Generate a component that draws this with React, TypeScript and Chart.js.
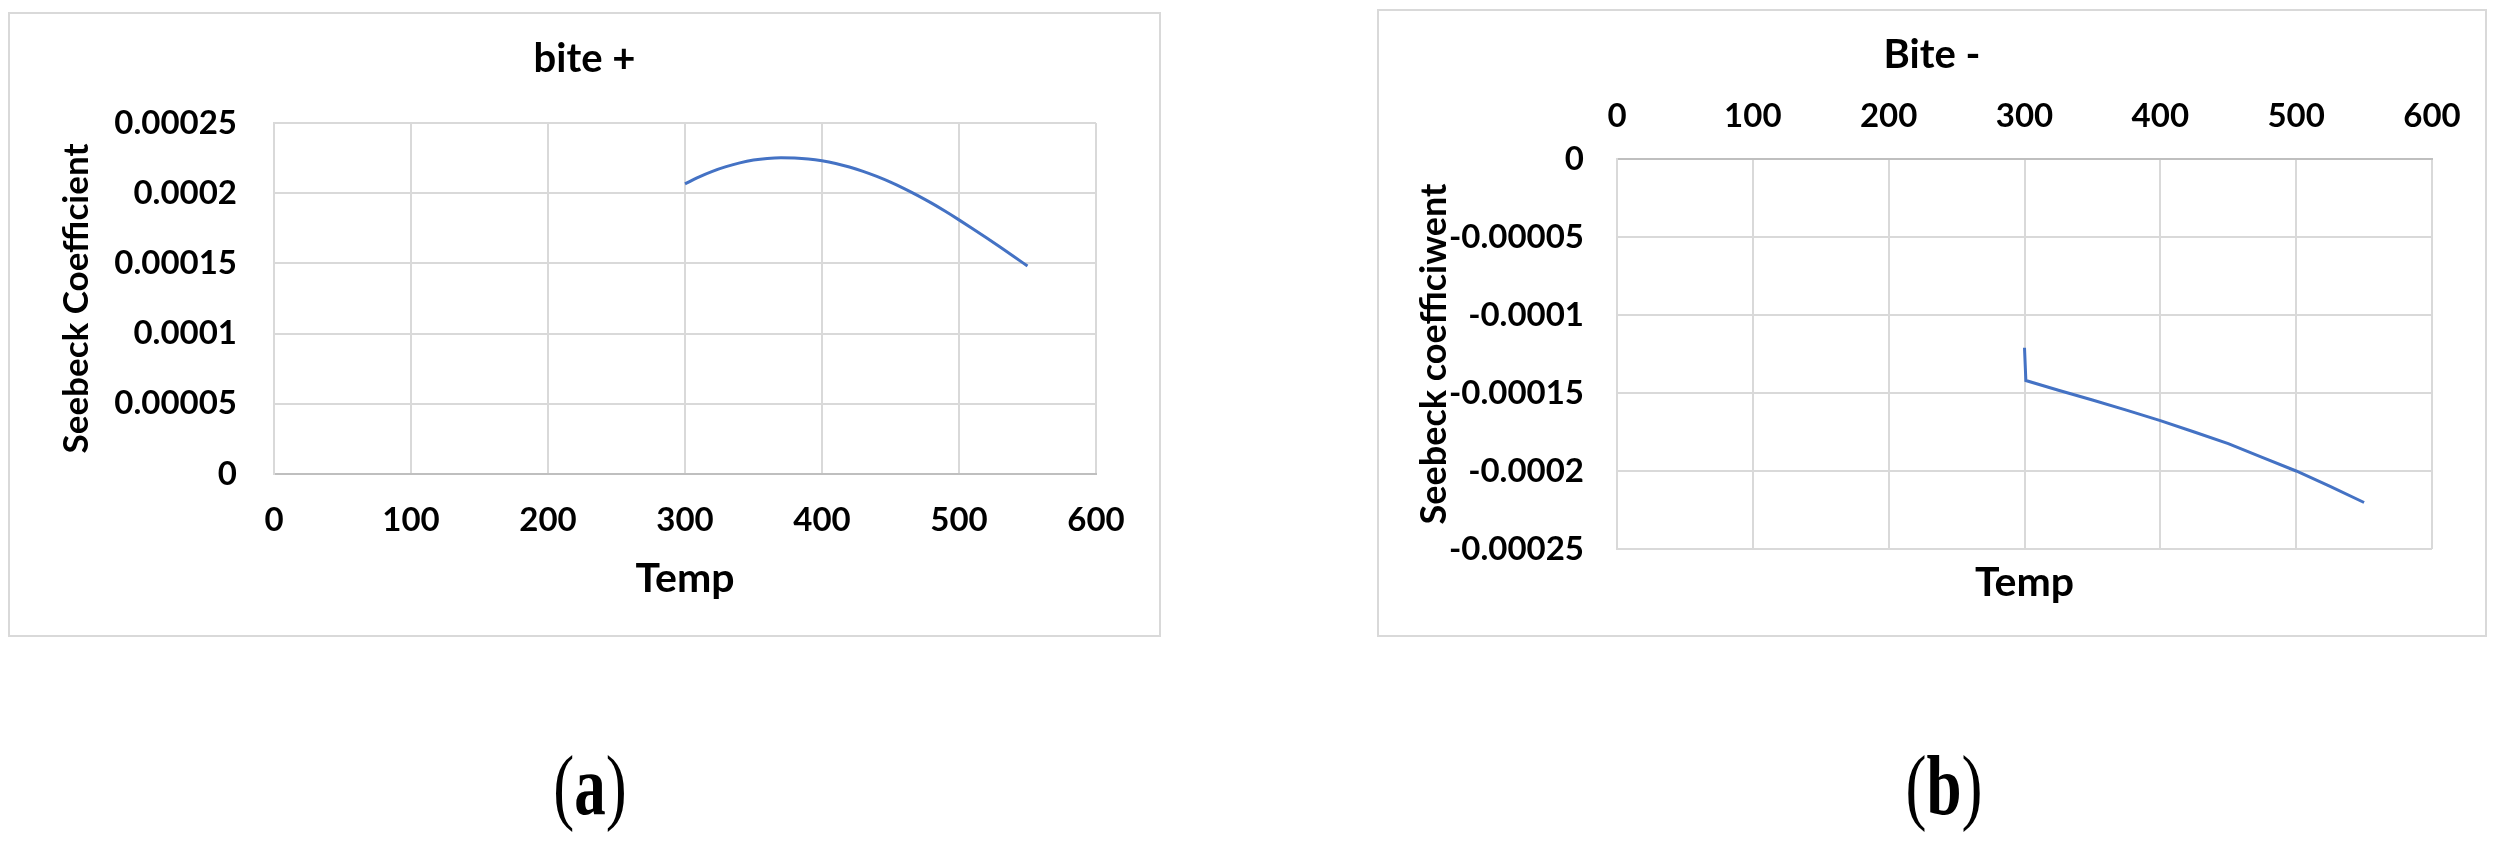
import React, { useEffect, useRef } from 'react';
import { Chart, registerables } from 'chart.js';

Chart.register(...registerables);

// ---------- data ----------
const tempA = [300, 310, 320, 330, 340, 350, 360, 370, 380, 390, 400, 410, 420, 430, 440, 450, 460, 470, 480, 490, 500, 510, 520, 530, 540, 550];
const seebeckA = [
  0.0002066, 0.0002115, 0.0002156, 0.0002189, 0.0002216, 0.0002236, 0.0002248, 0.0002253, 0.0002251, 0.0002244,
  0.0002231, 0.0002212, 0.0002187, 0.0002156, 0.000212, 0.0002079, 0.0002033, 0.0001983, 0.0001929, 0.0001871,
  0.000181, 0.0001747, 0.0001682, 0.0001616, 0.0001549, 0.0001481,
];

const tempB = [300, 301, 325, 350, 375, 400, 425, 450, 475, 500, 525, 550];
const seebeckB = [
  -0.000121, -0.000142, -0.0001482, -0.0001545, -0.000161, -0.0001677, -0.000175, -0.0001825, -0.0001912,
  -0.0002, -0.0002098, -0.0002202,
];

const xTickValues = [0, 100, 200, 300, 400, 500, 600];
const xTickLabels = ['0', '100', '200', '300', '400', '500', '600'];
const yTickValuesA = [0, 0.00005, 0.0001, 0.00015, 0.0002, 0.00025];
const yTickLabelsA = ['0', '0.00005', '0.0001', '0.00015', '0.0002', '0.00025'];
const yTickValuesB = [-0.00025, -0.0002, -0.00015, -0.0001, -0.00005, 0];
const yTickLabelsB = ['-0.00025', '-0.0002', '-0.00015', '-0.0001', '-0.00005', '0'];

const titleA = 'bite +';
const titleB = 'Bite -';
const xTitle = 'Temp';
const yTitleA = 'Seebeck Coefficient';
const yTitleB = 'Seebeck coefficiwent';

// ---------- styles ----------
const LINE = '#4472C4';
const GRID = '#D9D9D9';
const AXIS = '#BFBFBF';
const FAMILY = 'Lato, "Open Sans", sans-serif';
const tickFont = { family: FAMILY, weight: 'bold' as const, size: 33 };
const titleFont = { family: FAMILY, weight: 'bold' as const, size: 40 };
const xTitleFont = { family: FAMILY, weight: 'bold' as const, size: 41 };
const yTitleFontA = { family: FAMILY, weight: 'bold' as const, size: 35 };
const yTitleFontB = { family: FAMILY, weight: 'bold' as const, size: 36 };

function setTicks(values: number[]) {
  return (scale: any) => {
    scale.ticks = values.map((v) => ({ value: v }));
  };
}

function configA(): any {
  return {
    type: 'line',
    data: {
      datasets: [
        {
          data: tempA.map((t, i) => ({ x: t, y: seebeckA[i] })),
          borderColor: LINE,
          borderWidth: 3,
          pointRadius: 0,
          fill: false,
          cubicInterpolationMode: 'monotone',
          xAxisID: 'x',
          yAxisID: 'y',
        },
      ],
    },
    options: {
      responsive: false,
      animation: false,
      events: [],
      layout: { padding: 0 },
      plugins: {
        legend: { display: false },
        tooltip: { enabled: false },
        title: {
          display: true,
          text: titleA,
          color: '#000',
          font: titleFont,
          padding: { top: 23, bottom: 40 },
        },
      },
      scales: {
        x: {
          type: 'linear',
          position: 'bottom',
          min: 0,
          max: 600,
          afterBuildTicks: setTicks(xTickValues),
          afterFit: (s: any) => {
            s.height = 163;
          },
          ticks: {
            callback: (_v: any, i: number) => xTickLabels[i],
            color: '#000',
            font: tickFont,
            padding: 27,
            maxRotation: 0,
            autoSkip: false,
          },
          grid: { color: GRID, lineWidth: 2, drawTicks: false },
          border: { color: AXIS, width: 2 },
          title: { display: true, text: xTitle, color: '#000', font: xTitleFont, padding: { top: 0, bottom: 34 } },
        },
        y: {
          type: 'linear',
          position: 'left',
          min: 0,
          max: 0.00025,
          afterBuildTicks: setTicks(yTickValuesA),
          afterFit: (s: any) => {
            s.width = 266;
          },
          ticks: {
            callback: (_v: any, i: number) => yTickLabelsA[i],
            color: '#000',
            font: tickFont,
            padding: 37,
            autoSkip: false,
          },
          grid: { color: GRID, lineWidth: 2, drawTicks: false },
          border: { color: GRID, width: 2 },
          title: { display: true, text: yTitleA, color: '#000', font: yTitleFontA, padding: { top: 48, bottom: 0 } },
        },
        yr: {
          type: 'linear',
          position: 'right',
          min: 0,
          max: 1,
          afterFit: (s: any) => {
            s.width = 65;
          },
          ticks: { display: false },
          grid: { display: false },
          border: { display: false },
        },
      },
    },
  };
}

function configB(): any {
  return {
    type: 'line',
    data: {
      datasets: [
        {
          data: tempB.map((t, i) => ({ x: t, y: seebeckB[i] })),
          borderColor: LINE,
          borderWidth: 3,
          pointRadius: 0,
          fill: false,
          tension: 0,
          xAxisID: 'x',
          yAxisID: 'y',
        },
      ],
    },
    options: {
      responsive: false,
      animation: false,
      events: [],
      layout: { padding: 0 },
      plugins: {
        legend: { display: false },
        tooltip: { enabled: false },
        title: {
          display: true,
          text: titleB,
          color: '#000',
          font: titleFont,
          padding: { top: 22, bottom: 0 },
        },
      },
      scales: {
        x: {
          type: 'linear',
          position: 'top',
          min: 0,
          max: 600,
          afterBuildTicks: setTicks(xTickValues),
          afterFit: (s: any) => {
            s.height = 80;
          },
          ticks: {
            callback: (_v: any, i: number) => xTickLabels[i],
            color: '#000',
            font: tickFont,
            padding: 23,
            maxRotation: 0,
            autoSkip: false,
          },
          grid: { color: GRID, lineWidth: 2, drawTicks: false },
          border: { color: AXIS, width: 2 },
        },
        xb: {
          type: 'linear',
          position: 'bottom',
          min: 0,
          max: 600,
          afterFit: (s: any) => {
            s.height = 88;
          },
          ticks: { display: false },
          grid: { display: false },
          border: { display: false },
          title: { display: true, text: xTitle, color: '#000', font: xTitleFont, padding: { top: 0, bottom: 30 } },
        },
        y: {
          type: 'linear',
          position: 'left',
          min: -0.00025,
          max: 0,
          afterBuildTicks: setTicks(yTickValuesB),
          afterFit: (s: any) => {
            s.width = 240;
          },
          ticks: {
            callback: (_v: any, i: number) => yTickLabelsB[i],
            color: '#000',
            font: tickFont,
            padding: 33,
            autoSkip: false,
          },
          grid: { color: GRID, lineWidth: 2, drawTicks: false },
          border: { color: GRID, width: 2 },
          title: { display: true, text: yTitleB, color: '#000', font: yTitleFontB, padding: { top: 36, bottom: 0 } },
        },
        yr: {
          type: 'linear',
          position: 'right',
          min: 0,
          max: 1,
          afterFit: (s: any) => {
            s.width = 55;
          },
          ticks: { display: false },
          grid: { display: false },
          border: { display: false },
        },
      },
    },
  };
}

function Panel(props: { left: number; top: number; width: number; height: number; make: () => any }) {
  const ref = useRef<HTMLCanvasElement | null>(null);
  useEffect(() => {
    if (!ref.current) return;
    const chart = new Chart(ref.current, props.make());
    return () => chart.destroy();
  }, []);
  const { left, top, width, height } = props;
  return (
    <>
      <canvas
        ref={ref}
        width={width}
        height={height}
        style={{ position: 'absolute', left, top, width, height, display: 'block' }}
      />
      <div
        style={{
          position: 'absolute',
          left,
          top,
          width,
          height,
          boxSizing: 'border-box',
          border: `2px solid ${GRID}`,
          pointerEvents: 'none',
        }}
      />
    </>
  );
}

function SubLabel(props: { cx: number; letter: string }) {
  return (
    <div
      style={{
        position: 'absolute',
        left: props.cx - 100,
        top: 744,
        width: 200,
        textAlign: 'center',
        fontFamily: '"Liberation Serif", "DejaVu Serif", serif',
        fontSize: 84,
        lineHeight: '84px',
        color: '#000',
        whiteSpace: 'nowrap',
        transform: 'scaleX(0.75)',
        transformOrigin: '50% 50%',
      }}
    >
      (<b>{props.letter}</b>)
    </div>
  );
}

export default function App() {
  return (
    <div style={{ position: 'absolute', left: 0, top: 0, width: 2499, height: 848, background: '#fff', overflow: 'hidden' }}>
      <Panel left={8} top={12} width={1153} height={625} make={configA} />
      <Panel left={1377} top={9} width={1110} height={628} make={configB} />
      <SubLabel cx={590} letter="a" />
      <SubLabel cx={1944} letter="b" />
    </div>
  );
}
